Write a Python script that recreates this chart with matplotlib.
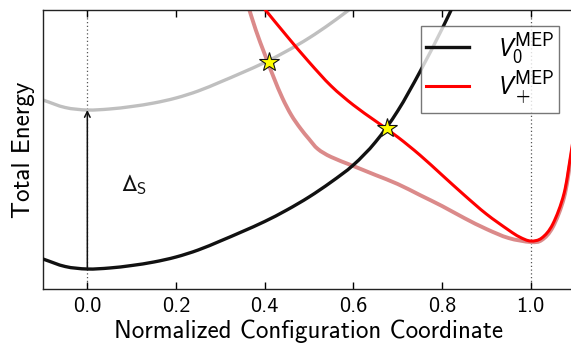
import matplotlib
matplotlib.use("Agg")
import matplotlib.pyplot as plt
from matplotlib.path import Path
from matplotlib.patches import PathPatch
from matplotlib.lines import Line2D
import numpy as np

plt.rcParams["font.family"] = ["cmss10", "DejaVu Sans"]
plt.rcParams["mathtext.fontset"] = "custom"
plt.rcParams["mathtext.rm"] = "cmss10"
plt.rcParams["mathtext.it"] = "Open Sans:italic"
plt.rcParams["mathtext.fallback"] = "stixsans"
plt.rcParams["axes.unicode_minus"] = False

# Neutral ground-state MEP (black)
q_neutral = [-0.10, -0.05, 0.00, 0.05, 0.10, 0.15, 0.20, 0.25, 0.30, 0.35,
             0.40, 0.45, 0.50, 0.55, 0.60, 0.65, 0.70, 0.75, 0.80, 0.83]
e_neutral = [0.30, 0.225, 0.20, 0.21, 0.235, 0.27, 0.32, 0.39, 0.48, 0.575,
             0.675, 0.79, 0.92, 1.07, 1.24, 1.47, 1.78, 2.17, 2.60, 2.88]

# Excited neutral curve sits Delta_S above the ground state
delta_s = 1.59
e_excited = [e + delta_s for e in e_neutral]

# Positive-charge-state MEP (red)
q_plus = [0.39, 0.40, 0.45, 0.50, 0.55, 0.60, 0.65, 0.70, 0.75, 0.80,
          0.85, 0.90, 0.95, 0.975, 1.00, 1.025, 1.05, 1.075, 1.09, 1.10]
e_plus = [2.86, 2.80, 2.53, 2.27, 2.03, 1.84, 1.68, 1.52, 1.34, 1.14,
          0.94, 0.75, 0.59, 0.52, 0.48, 0.51, 0.65, 0.95, 1.33, 1.62]

# Positive charge state, second curve (light red)
q_plus2 = [0.36, 0.38, 0.40, 0.42, 0.44, 0.46, 0.48, 0.50, 0.52, 0.55,
           0.60, 0.65, 0.70, 0.75, 0.80, 0.85, 0.90, 0.95, 1.00, 1.025,
           1.05, 1.075, 1.09, 1.10]
e_plus2 = [2.87, 2.59, 2.35, 2.12, 1.91, 1.74, 1.61, 1.50, 1.40, 1.32,
           1.23, 1.14, 1.05, 0.94, 0.83, 0.71, 0.60, 0.51, 0.47, 0.49,
           0.62, 0.91, 1.28, 1.56]

# Crossing points
cross_q = [0.409, 0.676]
cross_e = [2.27, 1.61]

xticks = [0.0, 0.2, 0.4, 0.6, 0.8, 1.0]


def smooth_path(xs, ys):
    """Catmull-Rom curve through the given points, as cubic Bezier segments."""
    p = np.column_stack([xs, ys]).astype(float)
    ext = np.vstack([2 * p[0] - p[1], p, 2 * p[-1] - p[-2]])
    verts = [p[0]]
    codes = [Path.MOVETO]
    for i in range(1, len(ext) - 2):
        p0, p1, p2, p3 = ext[i - 1], ext[i], ext[i + 1], ext[i + 2]
        verts += [p1 + (p2 - p0) / 6.0, p2 - (p3 - p1) / 6.0, p2]
        codes += [Path.CURVE4] * 3
    return Path(verts, codes)


def draw_curve(ax, xs, ys, **kw):
    patch = PathPatch(smooth_path(xs, ys), fill=False, capstyle="round",
                      joinstyle="round", **kw)
    ax.add_patch(patch)
    return patch


fig = plt.figure(figsize=(5.71, 3.45), dpi=100)
ax = fig.add_axes([0.0753, 0.1623, 0.9317, 0.8087])

ax.axvline(0.0, color="#555555", lw=0.9, ls=(0, (1, 2)), zorder=1)
ax.axvline(1.0, color="#555555", lw=0.9, ls=(0, (1, 2)), zorder=1)

draw_curve(ax, q_neutral, e_excited, edgecolor="#bfbfbf", lw=2.4, zorder=2)
draw_curve(ax, q_plus2, e_plus2, edgecolor="#db8a8a", lw=2.8, zorder=2)
draw_curve(ax, q_neutral, e_neutral, edgecolor="#111111", lw=2.4, zorder=3)
draw_curve(ax, q_plus, e_plus, edgecolor="#ff0000", lw=2.2, zorder=3)

ax.plot(cross_q, cross_e, ls="none", marker="*", ms=15, mfc="#ffff00",
        mec="#111111", mew=0.8, zorder=5)

e_min = min(e_neutral)
ax.annotate("", xy=(0.0, e_min + delta_s), xytext=(0.0, e_min),
            arrowprops=dict(arrowstyle="->", color="#111111", lw=1.1,
                            shrinkA=0, shrinkB=0), zorder=4)
ax.text(0.075, 1.04, r"$\Delta_\mathrm{S}$", fontsize=17, color="#111111",
        va="center", ha="left")

ax.set_xlim(-0.1, 1.1)
ax.set_ylim(0.0, 2.79)
ax.set_xticks(xticks)
ax.set_xticklabels([f"{t:.1f}" for t in xticks])
ax.set_yticks([])
ax.tick_params(axis="x", direction="in", top=True, length=5, width=1,
               labelsize=16, pad=6)
for s in ax.spines.values():
    s.set_linewidth(1.0)
    s.set_color("#222222")

ax.set_xlabel("Normalized Configuration Coordinate", fontsize=18, labelpad=2)
ax.set_ylabel("Total Energy", fontsize=18, labelpad=6)

handles = [Line2D([], [], color="#111111", lw=2.4),
           Line2D([], [], color="#ff0000", lw=2.2)]
labels = [r"$V_0^{\mathrm{MEP}}$", r"$V_+^{\mathrm{MEP}}$"]
leg = ax.legend(handles, labels, loc="upper right", fontsize=19, frameon=True,
                fancybox=False, edgecolor="#555555", handlelength=1.6,
                handletextpad=1.1, borderpad=0.2, labelspacing=0.1,
                borderaxespad=0.6)
leg.get_frame().set_linewidth(1.0)

fig.savefig("out.png", dpi=100)
